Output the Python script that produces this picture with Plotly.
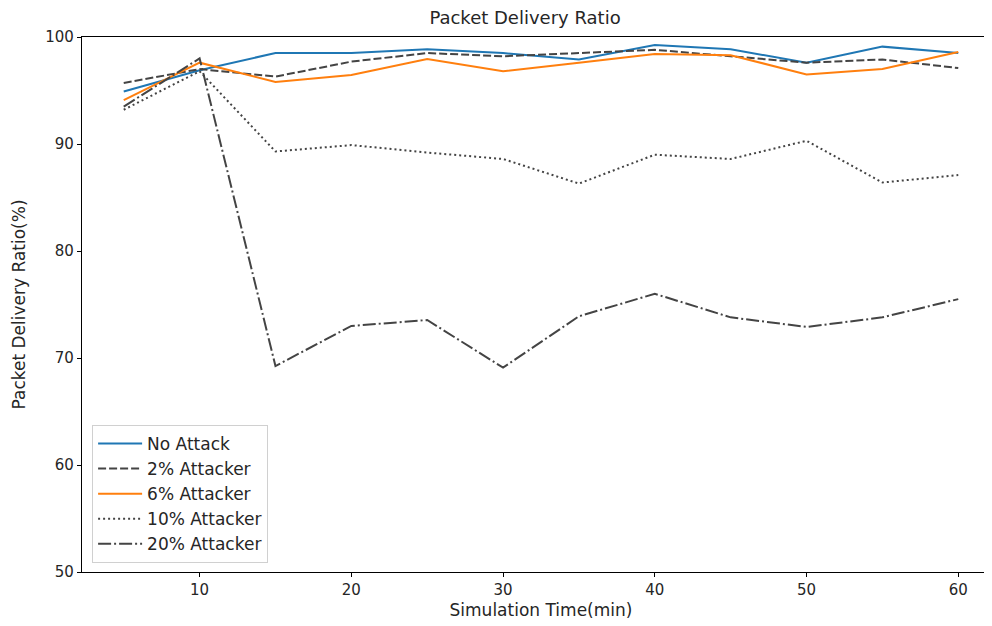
import plotly.graph_objects as go

sim_time = [5, 10, 15, 20, 25, 30, 35, 40, 45, 50, 55, 60]
no_attack = [94.9, 96.9, 98.5, 98.5, 98.85, 98.5, 97.9, 99.25, 98.85, 97.6, 99.1, 98.5]
attacker_2 = [95.7, 97.0, 96.3, 97.7, 98.5, 98.2, 98.5, 98.8, 98.2, 97.6, 97.9, 97.1]
attacker_6 = [94.1, 97.6, 95.8, 96.45, 97.95, 96.8, 97.6, 98.4, 98.3, 96.5, 97.0, 98.6]
attacker_10 = [93.2, 96.8, 89.3, 89.9, 89.2, 88.6, 86.3, 89.0, 88.6, 90.3, 86.4, 87.1]
attacker_20 = [93.5, 98.0, 69.25, 73.0, 73.55, 69.1, 73.9, 76.0, 73.8, 72.9, 73.8, 75.5]

series_names = ["No Attack", "2% Attacker", "6% Attacker", "10% Attacker", "20% Attacker"]
series_values = [no_attack, attacker_2, attacker_6, attacker_10, attacker_20]
series_colors = ["#1f77b4", "#444444", "#ff7f0e", "#444444", "#444444"]
series_dash = ["solid", "8px,3px", "solid", "2px,3px", "13px,3px,2px,3px"]

y_ticks = [50, 60, 70, 80, 90, 100]
x_ticks = [10, 20, 30, 40, 50, 60]

FONT = "DejaVu Sans"

fig = go.Figure()
for i, (name, vals, col, dash) in enumerate(zip(series_names, series_values, series_colors, series_dash)):
    fig.add_trace(go.Scatter(
        x=sim_time, y=vals, mode="lines", name=name,
        line=dict(color=col, width=2, dash=dash),
        legendgroup=f"g{i}",
    ))

fig.update_layout(
    width=992, height=626,
    paper_bgcolor="white", plot_bgcolor="white",
    margin=dict(l=74, r=0, t=29, b=62, autoexpand=False),
    font=dict(family=FONT, size=15, color="#262626"),
    title=dict(text="Packet Delivery Ratio", x=0.4826, xanchor="center", xref="paper",
               y=1 - 10 / 626, yanchor="middle", font=dict(size=18, family=FONT, color="#262626")),
    showlegend=True,
    legend=dict(
        x=0.011, y=0.017, xanchor="left", yanchor="bottom",
        bgcolor="rgba(255,255,255,0.8)", bordercolor="#d0d0d0", borderwidth=1,
        font=dict(size=17, family=FONT, color="#262626"),
        tracegroupgap=0, itemwidth=44, traceorder="grouped",
    ),
)

fig.update_xaxes(
    range=[2.25, 62.75], tickvals=x_ticks, ticks="outside", ticklen=4, tickcolor="black",
    showline=True, linecolor="black", linewidth=1.2, mirror=True,
    showgrid=False, zeroline=False, automargin=False,
    title=dict(text="Simulation Time(min)", font=dict(size=17, family=FONT, color="#262626"), standoff=6),
    tickfont=dict(size=15),
)
fig.update_yaxes(
    range=[50, 100], tickvals=y_ticks, ticks="outside", ticklen=4, tickcolor="black",
    showline=True, linecolor="black", linewidth=1.2, mirror=False,
    showgrid=False, zeroline=False, automargin=False,
    title=dict(text="Packet Delivery Ratio(%)", font=dict(size=17, family=FONT, color="#262626"), standoff=15),
    tickfont=dict(size=15),
)

fig.write_html("out.html")
